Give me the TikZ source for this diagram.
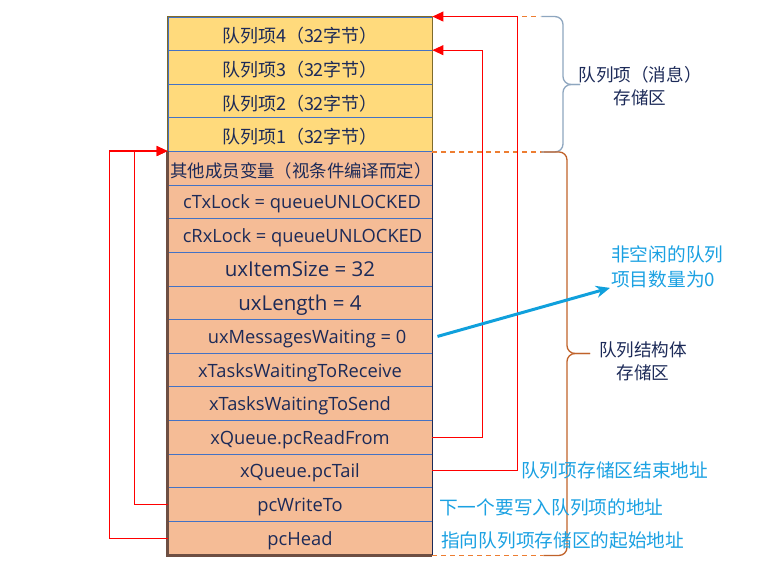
\documentclass[tikz,border=0pt]{standalone}
\usepackage{fontspec}
\setmainfont{Noto Sans CJK SC}
\newfontfamily\lat{Open Sans}
\usetikzlibrary{arrows.meta,calc}
\definecolor{yfill}{HTML}{FFDA7C}
\definecolor{ofill}{HTML}{F5BC96}
\definecolor{divblue}{HTML}{4472C4}
\definecolor{navy}{HTML}{1C2A58}
\definecolor{olive}{HTML}{7F6A2A}
\definecolor{brownb}{HTML}{6E4F43}
\definecolor{lblue}{HTML}{1BA1E2}
\definecolor{dorange}{HTML}{ED7D31}
\definecolor{braceA}{HTML}{8EA6BF}
\definecolor{braceB}{HTML}{C0622A}
\definecolor{arrblue}{HTML}{10A0DC}
\begin{document}
\begin{tikzpicture}[x=1pt,y=-1pt,
  cell/.style={draw=divblue, line width=0.9pt, minimum width=264pt, minimum height=33.625pt,
    inner sep=0pt, text=navy, text height=19pt, text depth=1pt, font=\fontsize{18}{20}\selectfont},
  ycell/.style={cell, fill=yfill},
  ocell/.style={cell, fill=ofill},
  lcell/.style={ocell, text height=15pt, font={\lat\fontsize{18.3}{20}\selectfont}},
  bcell/.style={ocell, text height=16.5pt, font={\lat\fontsize{20.5}{22}\selectfont}},
  ptr/.style={draw=red, line width=1.1pt, -{Triangle[length=11pt,width=10pt]}},
  zone/.style={dorange, line width=1.2pt, dash pattern=on 5pt off 4pt},
  label/.style={text=navy, font=\fontsize{17.6}{23}\selectfont, align=center, inner sep=0pt},
  note/.style={text=lblue, font=\fontsize{18.7}{25}\selectfont, align=left, inner sep=0pt, anchor=west},
]
\useasboundingbox (0,0) rectangle (780,565);

\node[ycell] (q4) at (300,33.81) {队列项4（32字节）};
\node[ycell] (q3) at (300,67.44) {队列项3（32字节）};
\node[ycell] (q2) at (300,101.06) {队列项2（32字节）};
\node[ycell] (q1) at (300,134.69) {队列项1（32字节）};
\node[ocell, font=\fontsize{17.4}{20}\selectfont] (other) at (300,168.31) {\hspace*{2pt}其他成员变量（视条件编译而定）};
\node[lcell] (ctx) at (300,201.94) {\hspace*{4pt}cTxLock = queueUNLOCKED};
\node[lcell] (crx) at (300,235.56) {\hspace*{5pt}cRxLock = queueUNLOCKED};
\node[bcell] (isize) at (300,269.19) {uxItemSize = 32};
\node[bcell] (len) at (300,302.81) {uxLength = 4};
\node[lcell] (msg) at (300,336.44) {\hspace*{14pt}uxMessagesWaiting = 0};
\node[lcell] (recv) at (300,370.06) {xTasksWaitingToReceive};
\node[lcell] (send) at (300,403.69) {xTasksWaitingToSend};
\node[lcell] (rd) at (300,437.31) {xQueue.pcReadFrom};
\node[lcell] (tail) at (300,470.94) {xQueue.pcTail};
\node[lcell] (wr) at (300,504.56) {pcWriteTo};
\node[lcell] (head) at (300,538.19) {pcHead};

% outer borders
\draw[olive, line width=1.8pt] (q1.south west) -- (q4.north west) -- (q4.north east) -- (q1.south east);
\draw[brownb, line width=2.2pt] (other.north west) -- (head.south west) -- (head.south east);
\draw[navy, line width=1.8pt] (head.south east) -- (other.north east);

% dashed zone lines
\draw[zone] (q4.north east) -- ++(108,0);
\draw[zone] (q1.south east) -- ++(111,0);
\draw[zone] (head.south east) -- ++(111,0);

% braces
\draw[braceA, line width=1.3pt, rounded corners=8pt] ($(q4.north east)+(109,0)$) -| (563,84.5) -- (580,84.5);
\draw[braceA, line width=1.3pt, rounded corners=8pt] ($(q1.south east)+(109,0)$) -| (563,84.5) -- (580,84.5);
\draw[braceB, line width=1.3pt, rounded corners=8pt] ($(q1.south east)+(111,0)$) -| (567,353.5) -- (590,353.5);
\draw[braceB, line width=1.3pt, rounded corners=8pt] ($(head.south east)+(111,0)$) -| (567,353.5) -- (590,353.5);

\node[label] (lab1) at (640,86.5) {队列项（消息）\\存储区};
\node[label] (lab2) at (643,361.5) {队列结构体\\存储区};

% red pointers
\draw[ptr] (tail.east) -- ++(85,0) |- (q4.north east);
\draw[ptr] (rd.east) -- ++(50,0) |- (q3.north east);
\draw[ptr] (wr.west) -- ++(-33,0) |- (other.north west);
\draw[ptr] (head.west) -- ++(-58,0) |- (other.north west);

% notes
\node[note] (nz) at (611,266.5) {非空闲的队列\\项目数量为0};
\draw[arrblue, line width=3pt, -{Stealth[length=14pt,width=12pt]}] ($(msg.east)+(5,0)$) -- ($(nz.south west)+(-1,0)$);
\node[note] (nend) at (521,470) {队列项存储区结束地址};
\node[note] (nwr) at (439,507) {下一个要写入队列项的地址};
\node[note] (nhd) at (441,540) {指向队列项存储区的起始地址};
\end{tikzpicture}
\end{document}
